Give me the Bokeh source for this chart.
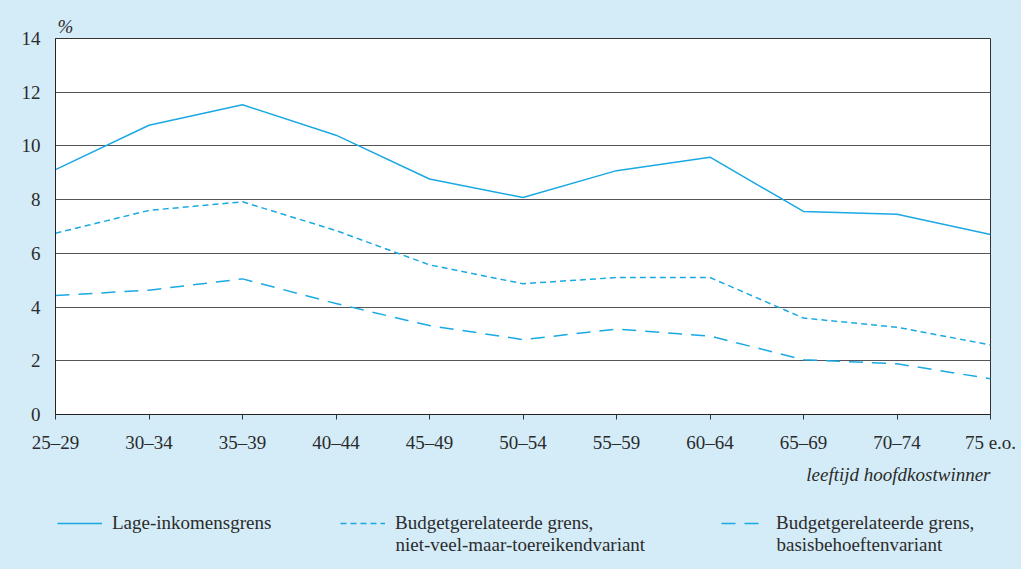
from bokeh.plotting import figure
from bokeh.models import FixedTicker, Legend, LegendItem, Title, Label, Range1d
from bokeh.layouts import column
from bokeh.embed import file_html
from bokeh.resources import INLINE

categories = ["25\u201329", "30\u201334", "35\u201339", "40\u201344", "45\u201349", "50\u201354",
              "55\u201359", "60\u201364", "65\u201369", "70\u201374", "75 e.o."]
lage_inkomensgrens = [9.12, 10.77, 11.53, 10.40, 8.77, 8.08, 9.08, 9.58, 7.56, 7.46, 6.70]
niet_veel_maar_toereikend = [6.75, 7.60, 7.92, 6.85, 5.57, 4.87, 5.10, 5.10, 3.59, 3.25, 2.59]
basisbehoeften = [4.43, 4.63, 5.05, 4.13, 3.31, 2.79, 3.18, 2.92, 2.04, 1.89, 1.33]
y_ticks = [0, 2, 4, 6, 8, 10, 12, 14]
series_names = ["Lage-inkomensgrens", "Budgetgerelateerde grens,", "Budgetgerelateerde grens,"]
series_second_lines = ["", "niet-veel-maar-toereikendvariant", "basisbehoeftenvariant"]

FONT = "Liberation Serif"
FS = "19px"
BG = "#d4ebf8"
LINE = "#1aa9e3"
TXT = "#2b2b2b"
DASHES = ["solid", "6 4", "14 9"]

W = 1021
H1 = 495
H2 = 74
BL, BR = 55, 31

xs = list(range(len(categories)))
series = [lage_inkomensgrens, niet_veel_maar_toereikend, basisbehoeften]

p = figure(width=W, height=H1, output_backend="svg", toolbar_location=None,
           x_range=(0, len(categories) - 1), y_range=(0, 14),
           min_border_left=BL, min_border_right=BR, min_border_top=38, min_border_bottom=81)
p.background_fill_color = "white"
p.border_fill_color = BG
p.outline_line_color = "#333333"
p.outline_line_width = 1

p.title.text = "%"
p.title.text_font = FONT
p.title.text_font_style = "italic"
p.title.text_font_size = FS
p.title.text_color = TXT
p.title.align = "left"
p.title.offset = 2
p.title.standoff = 3

p.xaxis.ticker = FixedTicker(ticks=xs)
p.xaxis.major_label_overrides = {i: c for i, c in enumerate(categories)}
p.yaxis.ticker = FixedTicker(ticks=y_ticks)
for ax in (p.xaxis, p.yaxis):
    ax.axis_line_color = "#222222"
    ax.major_label_text_font = FONT
    ax.major_label_text_font_size = FS
    ax.major_label_text_color = TXT
    ax.minor_tick_line_color = None
p.xaxis.major_tick_out = 5
p.xaxis.major_tick_in = 0
p.xaxis.major_tick_line_color = "#333333"
p.xaxis.major_label_standoff = 12
p.yaxis.major_tick_out = 0
p.yaxis.major_tick_in = 0
p.yaxis.major_label_standoff = 15
p.xgrid.grid_line_color = None
p.ygrid.grid_line_color = "#555555"
p.ygrid.grid_line_width = 1

for vals, dash in zip(series, DASHES):
    p.line(xs, vals, line_color=LINE, line_width=1.5, line_dash=dash)

xlabel = Title(text="leeftijd hoofdkostwinner", text_font=FONT, text_font_style="italic",
               text_font_size=FS, text_color=TXT, align="right", standoff=13)
p.add_layout(xlabel, "below")

# legend strip (frame aligned with the main plot's frame)
FW = W - BL - BR
p2 = figure(width=W, height=H2, output_backend="svg", toolbar_location=None,
            x_range=Range1d(0, FW), y_range=Range1d(0, H2),
            x_axis_location=None, y_axis_location=None,
            min_border_left=BL, min_border_right=BR, min_border_top=0, min_border_bottom=0)
p2.background_fill_alpha = 0
p2.border_fill_alpha = 0
p2.outline_line_color = None
p2.xgrid.visible = False
p2.ygrid.visible = False

legend_x = [2, 285, 666]
for name, second, dash, vals, lx in zip(series_names, series_second_lines, DASHES, series, legend_x):
    r = p2.line(xs, vals, line_color=LINE, line_width=1.5, line_dash=dash, visible=False)
    lg = Legend(items=[LegendItem(label=name, renderers=[r])], location=(lx, 35),
                glyph_width=45, glyph_height=22, label_height=22, label_standoff=10,
                padding=0, margin=0, border_line_color=None, background_fill_alpha=0,
                label_text_font=FONT, label_text_font_size=FS, label_text_color=TXT)
    p2.add_layout(lg, "center")
    if second:
        p2.add_layout(Label(x=lx + 55, y=25, text=second, text_font=FONT, text_font_size=FS,
                            text_color=TXT, text_baseline="middle"))

layout = column(p, p2, spacing=0, styles={"background-color": BG})
open("out.html", "w").write(file_html(layout, INLINE))
